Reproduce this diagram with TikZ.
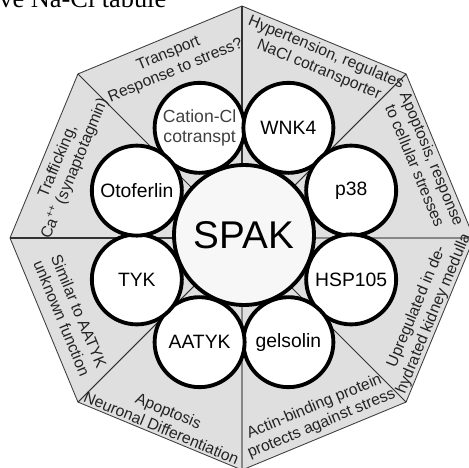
\documentclass[tikz,border=0pt]{standalone}
\usepackage{fontspec}
\setmainfont{Liberation Sans}
\newfontfamily\pageserif{Liberation Serif}
\definecolor{octgray}{RGB}{223,223,223}
\definecolor{spokedark}{RGB}{50,50,50}
\definecolor{spokelight}{RGB}{135,135,135}
\definecolor{labelgray}{RGB}{35,35,35}
\tikzstyle{hub} = [
    circle,
    draw=black,
    line width=2.2pt,
    fill=black!3,
    minimum size=2.8cm,
    inner sep=0pt,
    font=\fontsize{22}{24}\selectfont
]
\tikzstyle{partner} = [
    circle,
    draw=black,
    line width=2.2pt,
    fill=white,
    minimum size=1.8cm,
    inner sep=0pt,
    align=center,
    font=\fontsize{11}{12}\selectfont
]
\tikzstyle{sector} = [
    align=center,
    inner sep=0pt,
    text=labelgray,
    font=\fontsize{9}{10.5}\selectfont
]

\begin{document}
\begin{tikzpicture}[x=0.02cm, y=0.02cm]
        \clip (-242,-229) rectangle (227,238);
        % Octagon
        \coordinate (o) at (0,0);
        \foreach \i in {0,...,7} {
            \coordinate (v\i) at (\i*45:232);
        }
        \draw[fill=octgray, draw=black!75, line width=0.5pt]
            (v0) -- (v1) -- (v2) -- (v3) -- (v4) -- (v5) -- (v6) -- (v7) -- cycle;
        \foreach \i/\col in {0/spokelight, 1/spokedark, 2/spokedark, 3/spokedark, 4/spokedark, 5/spokedark, 6/spokelight, 7/spokedark} {
            \draw[\col, line width=0.6pt] (o) -- (v\i);
        }

        % Roles
        \foreach \ang/\rad/\rot/\txt in {
            111.7/189/22.5/{Transport\\Response to stress?},
            65.5/194/-22.5/{Hypertension, regulates\\NaCl cotransporter},
            22.7/197/-67.5/{Apoptosis, response\\to cellular stresses},
            -21.5/197/67.5/{Upregulated in de-\\hydrated kidney medulla},
            -66.8/193/22.5/{Actin-binding protein\\protects against stress},
            -113/197/-22.5/{Apoptosis\\Neuronal Differentiation},
            -155.9/188/-67.5/{Similar to AATYK\\unknown function},
            157.4/190/67.5/{Trafficking,\\Ca\textsuperscript{++} (synaptotagmin)}} {
            \node[sector, rotate=\rot] at (\ang:\rad) {\txt};
        }

        % Partners
        \node[hub] (spak) at (2,3) {SPAK};
        \node[partner, font=\fontsize{10}{11.5}\selectfont, text=black!75] (cation) at ([shift={(112.5:116)}]spak.center) {Cation-Cl\\cotranspt};
        \node[partner] (wnk4) at ([shift={(67.5:116)}]spak.center) {WNK4};
        \node[partner] (p38) at ([shift={(22.5:116)}]spak.center) {p38};
        \node[partner] (hsp105) at ([shift={(-22.5:116)}]spak.center) {HSP105};
        \node[partner] (gelsolin) at ([shift={(-67.5:116)}]spak.center) {gelsolin};
        \node[partner] (aatyk) at ([shift={(-112.5:116)}]spak.center) {AATYK};
        \node[partner] (tyk) at ([shift={(-157.5:116)}]spak.center) {TYK};
        \node[partner] (otoferlin) at ([shift={(157.5:116)}]spak.center) {Otoferlin};

        % Page above
        \node[anchor=base west, inner sep=0pt, font=\pageserif\fontsize{15}{17}\selectfont] (pagetext) at (-243,231) {ve Na-Cl tabule};
    \end{tikzpicture}
\end{document}
